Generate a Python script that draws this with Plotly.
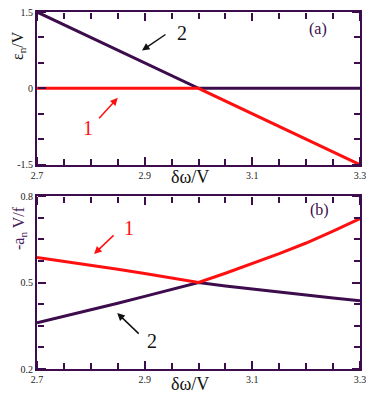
import plotly.graph_objects as go

# ---- data -------------------------------------------------------------
# panel (a): eigenvalues eps_n / V
x_a = [2.7, 3.0, 3.3]
eps1 = [0.0, 0.0, -1.5]     # curve 1 (red)
eps2 = [1.5, 0.0, 0.0]      # curve 2 (purple)

# panel (b): -a_n V / f
x_b = [2.7, 2.75, 2.8, 2.85, 2.9, 2.95, 3.0, 3.05, 3.1, 3.15, 3.2, 3.25, 3.3]
amp1 = [0.587, 0.574, 0.561, 0.546, 0.531, 0.516, 0.500,
        0.532, 0.566, 0.600, 0.637, 0.678, 0.722]
amp2 = [0.360, 0.382, 0.405, 0.428, 0.452, 0.476, 0.500,
        0.488, 0.477, 0.466, 0.455, 0.446, 0.437]

x_ticks = [2.7, 2.9, 3.1, 3.3]
ya_ticks = [-1.5, 0, 1.5]
yb_ticks = [0.2, 0.5, 0.8]

# ---- style ------------------------------------------------------------
PURPLE = "#3d0c4c"
RED = "#ff1010"
SERIF = "Liberation Serif, Times New Roman, serif"

# the page body adds an 8px margin: size the figure to the rest of the window
OFF = 8
W, H = 374 - OFF, 402 - OFF


def px_x(sx):
    return (sx - OFF) / W


def px_y(sy):
    return 1 - (sy - OFF) / H


xdom = [px_x(37), px_x(360)]
ya_dom = [px_y(164.7), px_y(12)]
yb_dom = [px_y(369), px_y(196)]

fig = go.Figure()

fig.add_trace(go.Scatter(x=x_a, y=eps2, mode="lines",
                         line=dict(color=PURPLE, width=3), xaxis="x", yaxis="y"))
fig.add_trace(go.Scatter(x=x_a, y=eps1, mode="lines",
                         line=dict(color=RED, width=3), xaxis="x", yaxis="y"))
fig.add_trace(go.Scatter(x=x_b, y=amp2, mode="lines",
                         line=dict(color=PURPLE, width=3), xaxis="x2", yaxis="y2"))
fig.add_trace(go.Scatter(x=x_b, y=amp1, mode="lines",
                         line=dict(color=RED, width=3), xaxis="x2", yaxis="y2"))

# invisible copies that just hook up the tick-only overlay axes
for xs, ys, xa, ya in [(x_a, eps2, "x3", "y3"), (x_a, eps2, "x4", "y4"),
                       (x_b, amp2, "x5", "y5"), (x_b, amp2, "x6", "y6")]:
    fig.add_trace(go.Scatter(x=xs, y=ys, mode="lines", opacity=0,
                             hoverinfo="skip", xaxis=xa, yaxis=ya))


def main_axis(ticks, dom, anchor):
    # frame + labels, no ticks
    return dict(
        range=[ticks[0], ticks[-1]], tickmode="array", tickvals=ticks,
        ticktext=[f"{t:g}" for t in ticks],
        automargin=False, ticklabeloverflow="allow",
        showline=True, linecolor=PURPLE, linewidth=2, mirror=True,
        ticks="", showgrid=False, zeroline=False,
        tickfont=dict(family=SERIF, size=10, color="#222"),
        domain=dom, anchor=anchor,
    )


def tick_axis(ticks, step, over, side, pos):
    # overlay axis placed on a frame edge, "outside" ticks point into the plot
    return dict(
        range=[ticks[0], ticks[-1]], tickmode="array", tickvals=ticks,
        overlaying=over, side=side, anchor="free", position=pos,
        automargin=False, showticklabels=False,
        showline=False, showgrid=False, zeroline=False,
        ticks="outside", ticklen=8, tickwidth=2, tickcolor=PURPLE,
        minor=dict(ticks="outside", tick0=ticks[0], dtick=step,
                   ticklen=6, tickwidth=2, tickcolor=PURPLE),
    )


fig.update_layout(
    template="none",
    width=W, height=H,
    margin=dict(l=0, r=0, t=0, b=0),
    paper_bgcolor="white", plot_bgcolor="rgba(0,0,0,0)",
    showlegend=False,
    xaxis=main_axis(x_ticks, xdom, "y"),
    yaxis=main_axis(ya_ticks, ya_dom, "x"),
    xaxis2=main_axis(x_ticks, xdom, "y2"),
    yaxis2=main_axis(yb_ticks, yb_dom, "x2"),
    # panel (a) tick rows
    xaxis3=tick_axis(x_ticks, 0.05, "x", "top", ya_dom[0]),
    xaxis4=tick_axis(x_ticks, 0.05, "x", "bottom", ya_dom[1]),
    yaxis3=tick_axis(ya_ticks, 0.5, "y", "right", xdom[0]),
    yaxis4=tick_axis(ya_ticks, 0.5, "y", "left", xdom[1]),
    # panel (b) tick rows
    xaxis5=tick_axis(x_ticks, 0.05, "x2", "top", yb_dom[0]),
    xaxis6=tick_axis(x_ticks, 0.05, "x2", "bottom", yb_dom[1]),
    yaxis5=tick_axis(yb_ticks, 0.075, "y2", "right", xdom[0]),
    yaxis6=tick_axis(yb_ticks, 0.075, "y2", "left", xdom[1]),
)

ann = []
# axis titles
for yy in [px_y(177), px_y(384)]:
    ann.append(dict(text="δω/V", xref="paper", yref="paper", x=px_x(190), y=yy,
                    xanchor="center", yanchor="middle", showarrow=False,
                    font=dict(family=SERIF, size=18, color="#111")))
ann.append(dict(text="ε<sub>n</sub>/V", xref="paper", yref="paper", x=px_x(19), y=px_y(46),
                xanchor="center", yanchor="middle", textangle=-90, showarrow=False,
                font=dict(family=SERIF, size=16, color="#1a1a1a")))
ann.append(dict(text="-a<sub>n</sub> V/f", xref="paper", yref="paper", x=px_x(19), y=px_y(228),
                xanchor="center", yanchor="middle", textangle=-90, showarrow=False,
                font=dict(family=SERIF, size=16, color="#4a1c5a")))

# panel labels
ann.append(dict(text="(a)", xref="x", yref="y", x=3.222, y=1.17, showarrow=False,
                font=dict(family=SERIF, size=16, color=PURPLE)))
ann.append(dict(text="(b)", xref="x2", yref="y2", x=3.224, y=0.751, showarrow=False,
                font=dict(family=SERIF, size=16, color=PURPLE)))

# curve numbers + arrows, panel (a)
ann.append(dict(text="2", xref="x", yref="y", x=2.969, y=1.09, showarrow=False,
                font=dict(family=SERIF, size=20, color="#111")))
ann.append(dict(text="", xref="x", yref="y", x=2.895, y=0.744, ax=25, ay=-17,
                showarrow=True, arrowhead=2, arrowsize=1, arrowwidth=1.5, arrowcolor="#111"))
ann.append(dict(text="1", xref="x", yref="y", x=2.795, y=-0.788, showarrow=False,
                font=dict(family=SERIF, size=20, color=RED)))
ann.append(dict(text="", xref="x", yref="y", x=2.850, y=-0.187, ax=-20, ay=22,
                showarrow=True, arrowhead=2, arrowsize=1, arrowwidth=1.5, arrowcolor=RED))

# curve numbers + arrows, panel (b)
ann.append(dict(text="1", xref="x2", yref="y2", x=2.871, y=0.689, showarrow=False,
                font=dict(family=SERIF, size=20, color=RED)))
ann.append(dict(text="", xref="x2", yref="y2", x=2.806, y=0.599, ax=21, ay=-20,
                showarrow=True, arrowhead=2, arrowsize=1, arrowwidth=1.5, arrowcolor=RED))
ann.append(dict(text="2", xref="x2", yref="y2", x=2.914, y=0.297, showarrow=False,
                font=dict(family=SERIF, size=20, color="#111")))
ann.append(dict(text="", xref="x2", yref="y2", x=2.849, y=0.394, ax=23, ay=22,
                showarrow=True, arrowhead=2, arrowsize=1, arrowwidth=1.5, arrowcolor="#111"))

fig.update_layout(annotations=ann)

fig.write_html("out.html")
